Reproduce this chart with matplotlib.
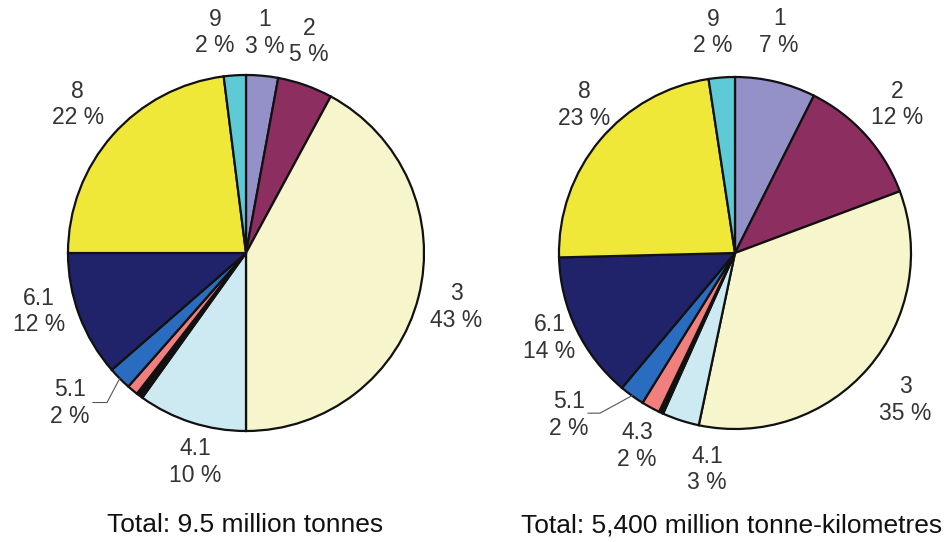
import numpy as np
import matplotlib
matplotlib.use("Agg")
import matplotlib.pyplot as plt

plt.rcParams['font.family'] = ['Liberation Sans', 'DejaVu Sans']

# ---- data ----
categories_left = ["1", "2", "3", "4.1", "4.2", "4.3", "5.1", "6.1", "8", "9"]
shares_left = [2.9, 5.0, 42.1, 9.9, 0.6, 1.0, 2.1, 11.4, 23.0, 2.0]
pct_text_left = ["3 %", "5 %", "43 %", "10 %", "", "", "2 %", "12 %", "22 %", "2 %"]

categories_right = ["1", "2", "3", "4.1", "4.2", "4.3", "5.1", "6.1", "8", "9"]
shares_right = [7.4, 11.9, 34.0, 3.4, 0.4, 1.7, 2.3, 13.5, 23.0, 2.4]
pct_text_right = ["7 %", "12 %", "35 %", "3 %", "", "2 %", "2 %", "14 %", "23 %", "2 %"]

title_left = "Total: 9.5 million tonnes"
title_right = "Total: 5,400 million tonne-kilometres"

# ---- styles ----
colors = ["#9490c8", "#8c2f60", "#f7f5cb", "#cde9f1", "#111111",
          "#f07f7d", "#2a6cbf", "#21236a", "#efe839", "#5dcad6"]

# label placement: (angle clockwise from top in degrees, radius factor)
label_pos_left = {"1": (4.9, 1.24), "2": (16.6, 1.24), "3": (104.4, 1.22),
                  "4.1": (193.7, 1.21), "5.1": (229.6, 1.30), "6.1": (254.2, 1.21),
                  "8": (311.4, 1.26), "9": (-8.0, 1.25)}
label_pos_right = {"1": (11.3, 1.28), "2": (47.6, 1.25), "3": (130.8, 1.28),
                   "4.1": (187.4, 1.24), "4.3": (206.9, 1.23), "5.1": (225.7, 1.32),
                   "6.1": (245.4, 1.16), "8": (314.6, 1.20), "9": (-5.7, 1.26)}

W, H = 951, 542
fig = plt.figure(figsize=(W / 100, H / 100), dpi=100)
fig.patch.set_facecolor("white")

def polar(angle, r):
    a = np.deg2rad(angle)
    return r * np.sin(a), r * np.cos(a)

def draw_pie(cx, cy, rad, cats, vals, pcts, lpos, leader_mid, leader_end, title, title_x):
    ax = fig.add_axes([(cx - rad) / W, (H - cy - rad) / H, 2 * rad / W, 2 * rad / H])
    wedges, _ = ax.pie(vals, colors=colors, startangle=90, counterclock=False,
                       wedgeprops=dict(edgecolor="#111111", linewidth=1.6),
                       radius=1.0)
    ax.set_xlim(-1, 1)
    ax.set_ylim(-1, 1)
    ax.set_aspect("equal")
    ax.axis("off")
    for c, p in zip(cats, pcts):
        if c in lpos and p:
            x, y = polar(*lpos[c])
            ax.text(x, y, f"{c}\n{p}", ha="center", va="center", fontsize=16.5,
                    color="#333333", linespacing=1.2, multialignment="center")
    # leader line for 5.1 slice
    i = cats.index("5.1")
    w = wedges[i]
    mid = np.deg2rad((w.theta1 + w.theta2) / 2)
    sx, sy = 1.0 * np.cos(mid), 1.0 * np.sin(mid)
    ax.plot([sx, leader_mid[0], leader_end[0]], [sy, leader_mid[1], leader_end[1]],
            color="#555555", lw=0.8, clip_on=False)
    fig.text(title_x / W, 1 - 525 / H, title, ha="center", va="center",
             fontsize=19, color="#111111")

draw_pie(246, 253, 178, categories_left, shares_left, pct_text_left, label_pos_left,
         (-0.781, -0.84), (-0.86, -0.84), title_left, 245)
draw_pie(735, 253, 176, categories_right, shares_right, pct_text_right, label_pos_right,
         (-0.767, -0.91), (-0.835, -0.91), title_right, 732)

fig.savefig("out.png", dpi=100, facecolor="white")
